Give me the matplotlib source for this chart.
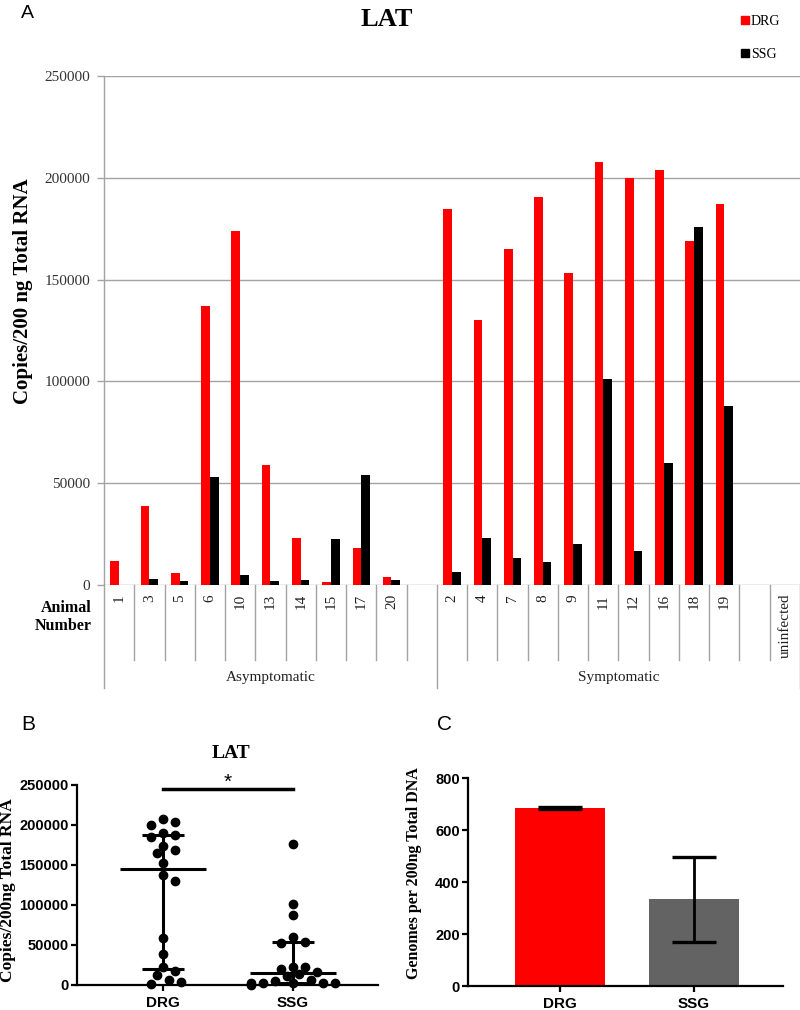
import numpy as np
import matplotlib
matplotlib.use('Agg')
import matplotlib.pyplot as plt
from matplotlib.patches import Patch
from matplotlib.transforms import blended_transform_factory

# ---------------- data ----------------
# Panel A: LAT copies per animal
categories = ['1', '3', '5', '6', '10', '13', '14', '15', '17', '20', '',
              '2', '4', '7', '8', '9', '11', '12', '16', '18', '19', '', 'uninfected']
drg_values = [12000, 39000, 6000, 137000, 174000, 59000, 23000, 1500, 18000, 4000, np.nan,
              184500, 130000, 165000, 190500, 153000, 208000, 200000, 204000, 169000, 187000, np.nan, np.nan]
ssg_values = [0, 3000, 2000, 53000, 5000, 2000, 2500, 22500, 54000, 2500, np.nan,
              6500, 23000, 13500, 11500, 20000, 101000, 16500, 60000, 176000, 88000, np.nan, np.nan]
group_names = ['Asymptomatic', 'Symptomatic']
group_bounds = [0, 11, 23]
a_yticks = [0, 50000, 100000, 150000, 200000, 250000]

# Panel B: scatter with median / IQR
b_groups = ['DRG', 'SSG']
b_drg_points = [v for v in drg_values if not np.isnan(v)]
b_ssg_points = [v for v in ssg_values if not np.isnan(v)]
b_median = [145000, 15000]
b_q1 = [20500, 2500]
b_q3 = [187000, 54000]
b_sig_level = 245000
b_yticks = [0, 50000, 100000, 150000, 200000, 250000]

# Panel C: genomes per 200ng DNA
c_groups = ['DRG', 'SSG']
c_means = [686, 333]
c_err = [4, 164]
c_yticks = [0, 200, 400, 600, 800]

W, H = 800, 1010
def fx(px):
    return px / W
def fy(py):
    return 1 - py / H

SERIF = 'Liberation Serif'
SANS = 'Liberation Sans'
GRAY = '#a3a3a3'

fig = plt.figure(figsize=(8, 10.1), dpi=100)

# ---------------- Panel A ----------------
a_top, a_bot, a_left, a_right = 76, 585, 104, 800
axA = fig.add_axes([fx(a_left), fy(a_bot), fx(a_right) - fx(a_left), (a_bot - a_top) / H])
n = len(categories)
x = np.arange(n) + 0.5
bw = 0.287
axA.bar(x - bw / 2, drg_values, width=bw, color='#ff0000', label='DRG', zorder=3)
axA.bar(x + bw / 2, ssg_values, width=bw, color='#000000', label='SSG', zorder=3)
axA.set_xlim(0, n)
axA.set_ylim(0, 250000)
axA.set_yticks(a_yticks)
axA.set_yticklabels([str(t) for t in a_yticks], fontfamily=SERIF, fontsize=11, color='#333333')
axA.set_xticks([])
for s in ['top', 'right', 'bottom']:
    axA.spines[s].set_visible(False)
axA.spines['left'].set_color(GRAY)
axA.spines['left'].set_linewidth(1.0)
axA.tick_params(axis='y', length=5, width=1.0, color=GRAY, pad=5)
axA.yaxis.grid(True, color=GRAY, linewidth=1.0, zorder=0)
axA.set_axisbelow(True)

trA = blended_transform_factory(axA.transData, axA.transAxes)
ah = a_bot - a_top
for i, lab in enumerate(categories):
    if lab:
        axA.text(x[i], -(594 - a_bot) / ah, lab, transform=trA, rotation=90,
                 ha='center', va='top', fontfamily=SERIF, fontsize=11, color='#222222')
for b in range(0, n + 1):
    end = -(688 - a_bot) / ah if b in group_bounds else -(660 - a_bot) / ah
    axA.plot([b, b], [0, end], transform=trA, color=GRAY, lw=1.0, clip_on=False)
for gi, g in enumerate(group_names):
    xc = (group_bounds[gi] + group_bounds[gi + 1]) / 2
    axA.text(xc, -(678 - a_bot) / ah, g, transform=trA, ha='center', va='center',
             fontfamily=SERIF, fontsize=11, color='#222222')

fig.text(fx(92), fy(617), 'Animal\nNumber', ha='right', va='center', fontfamily=SERIF,
         fontweight='bold', fontsize=11.5, linespacing=1.25)
fig.text(fx(23), fy(291), 'Copies/200 ng Total RNA', rotation=90, ha='center', va='center',
         fontfamily=SERIF, fontweight='bold', fontsize=15)
fig.text(fx(387), fy(20), 'LAT', ha='center', va='center', fontfamily=SERIF,
         fontweight='bold', fontsize=19)
fig.text(fx(27), fy(13), 'A', ha='center', va='center', fontfamily=SANS, fontsize=14)
fig.legend(handles=[Patch(color='#ff0000'), Patch(color='#000000')], labels=['DRG', 'SSG'],
           loc='upper left', bbox_to_anchor=(fx(734), fy(8)), frameon=False,
           prop={'family': SERIF, 'size': 10}, handlelength=0.55, handleheight=0.55,
           handletextpad=0.15, labelspacing=1.45, borderpad=0)

# ---------------- Panel B ----------------
b_left, b_right, b_top, b_bot = 77, 378, 785, 985
axB = fig.add_axes([fx(b_left), fy(b_bot), (b_right - b_left) / W, (b_bot - b_top) / H])
b_pxu = 130.0
axB.set_xlim(1 - (163 - b_left) / b_pxu, 1 + (b_right - 163) / b_pxu)
axB.set_ylim(0, 250000)
ypx = (b_bot - b_top) / 250000.0


def swarm(values, center, step=6.0, d=9.0):
    placed = []
    xs = np.zeros(len(values))
    order = np.argsort(values)[::-1]
    for i in order:
        y = values[i] * ypx
        for k in [0, 1, -1, 2, -2, 3, -3, 4, -4, 5, -5, 6, -6, 7, -7]:
            xo = k * step
            if all((xo - px) ** 2 + (y - py) ** 2 >= d * d for px, py in placed):
                break
        placed.append((xo, y))
        xs[i] = center + xo / b_pxu
    return xs

for gi, pts in enumerate([b_drg_points, b_ssg_points]):
    pts = np.array(pts, dtype=float)
    xs = swarm(pts, gi + 1)
    axB.plot(xs, pts, 'o', color='black', markersize=6, clip_on=False, zorder=3)
    c = gi + 1
    axB.vlines(c, b_q1[gi], b_q3[gi], color='black', lw=2.2, zorder=4)
    axB.hlines([b_q1[gi], b_q3[gi]], c - 0.16, c + 0.16, color='black', lw=2.2, zorder=4)
    axB.hlines(b_median[gi], c - 0.33, c + 0.33, color='black', lw=2.2, zorder=4)

axB.plot([1, 2], [b_sig_level, b_sig_level], color='black', lw=2.5, clip_on=False)
axB.text(1.5, b_sig_level - 3000, '*', ha='center', va='bottom', fontfamily=SANS, fontsize=15)
axB.set_xticks([1, 2])
axB.set_xticklabels(b_groups, fontfamily=SANS, fontweight='bold', fontsize=11)
axB.set_yticks(b_yticks)
axB.set_yticklabels([str(t) for t in b_yticks], fontfamily=SANS, fontweight='bold', fontsize=10.5)
for s in ['top', 'right']:
    axB.spines[s].set_visible(False)
for s in ['left', 'bottom']:
    axB.spines[s].set_linewidth(1.6)
axB.tick_params(length=4, width=1.6, pad=2)
axB.tick_params(axis='x', pad=4)
fig.text(fx(231), fy(753), 'LAT', ha='center', va='center', fontfamily=SERIF,
         fontweight='bold', fontsize=14)
fig.text(fx(28), fy(725), 'B', ha='center', va='center', fontfamily=SANS, fontsize=15)
fig.text(fx(8), fy(890), 'Copies/200ng Total RNA', rotation=90, ha='center', va='center',
         fontfamily=SERIF, fontweight='bold', fontsize=12.5)

# ---------------- Panel C ----------------
c_left, c_right, c_top, c_bot = 468, 783, 778, 986
axC = fig.add_axes([fx(c_left), fy(c_bot), (c_right - c_left) / W, (c_bot - c_top) / H])
c_pxu = 134.0
axC.set_xlim(1 - (560 - c_left) / c_pxu, 1 + (c_right - 560) / c_pxu)
axC.set_ylim(0, 800)
axC.bar([1, 2], c_means, width=0.67, color=['#ff0000', '#636363'], zorder=2)
axC.errorbar([1, 2], c_means, yerr=c_err, fmt='none', ecolor='black', elinewidth=2.0,
             capsize=16, capthick=2.4, zorder=3)
axC.set_xticks([1, 2])
axC.set_xticklabels(c_groups, fontfamily=SANS, fontweight='bold', fontsize=11)
axC.set_yticks(c_yticks)
axC.set_yticklabels([str(t) for t in c_yticks], fontfamily=SANS, fontweight='bold', fontsize=10.5)
for s in ['top', 'right']:
    axC.spines[s].set_visible(False)
for s in ['left', 'bottom']:
    axC.spines[s].set_linewidth(1.6)
axC.tick_params(length=4, width=1.6, pad=2)
axC.tick_params(axis='x', pad=4)
fig.text(fx(445), fy(725), 'C', ha='center', va='center', fontfamily=SANS, fontsize=15)
fig.text(fx(414), fy(873), 'Genomes per 200ng Total DNA', rotation=90, ha='center', va='center',
         fontfamily=SERIF, fontweight='bold', fontsize=11.5)

fig.savefig('out.png', dpi=100)
